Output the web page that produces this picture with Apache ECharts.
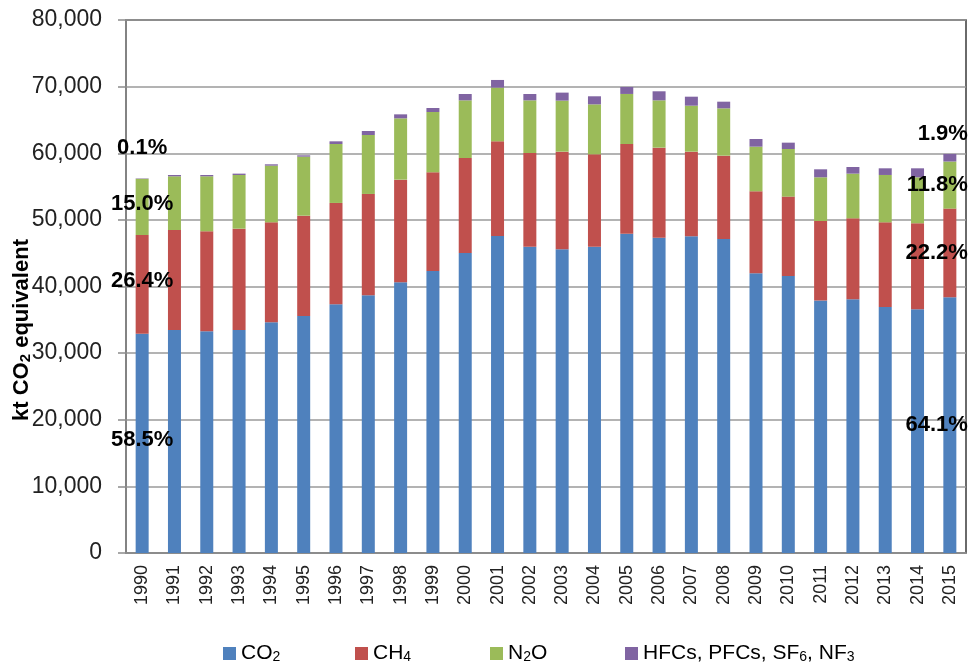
<!DOCTYPE html>
<html>
<head>
<meta charset="utf-8">
<script src="https://cdn.jsdelivr.net/npm/echarts@6/dist/echarts.min.js"></script>
<style>
  html, body { margin: 0; padding: 0; background: #fff; }
  #chart { width: 972px; height: 666px; }
</style>
</head>
<body>
<div id="chart"></div>
<script>
var years = ['1990','1991','1992','1993','1994','1995','1996','1997','1998','1999','2000','2001','2002','2003','2004','2005','2006','2007','2008','2009','2010','2011','2012','2013','2014','2015'];
var co2  = [32900,33470,33280,33470,34620,35570,37330,38680,40630,42330,45030,47580,45980,45580,45980,47930,47330,47530,47130,41980,41580,37880,38080,36920,36580,38390];
var ch4  = [14830,15010,15010,15210,15010,15060,15210,15210,15410,14810,14260,14210,14060,14660,13860,13460,13510,12710,12510,12310,11910,11950,12150,12710,12910,13300];
var n2o  = [8430,8060,8250,8060,8510,8860,8850,8850,9200,9050,8650,8060,7900,7660,7500,7510,7100,6900,7100,6700,7150,6560,6710,7110,6900,7070];
var fgas = [60,200,200,200,200,200,400,600,600,600,950,1150,950,1200,1210,1050,1360,1350,1000,1150,950,1200,1000,1000,1350,1140];
var shares1990 = ['58.5%','26.4%','15.0%','0.1%'];
var shares2015 = ['64.1%','22.2%','11.8%','1.9%'];
var seriesNames = ['CO2','CH4','N2O','HFCs, PFCs, SF6, NF3'];
var legendRich = {
  'CO2': '{n|CO}{s|2}',
  'CH4': '{n|CH}{s|4}',
  'N2O': '{n|N}{s|2}{n|O}',
  'HFCs, PFCs, SF6, NF3': '{n|HFCs, PFCs, SF}{s|6}{n|, NF}{s|3}'
};
var colors = ['#4F81BD','#C0504D','#9BBB59','#8064A2'];
var yTicks = [0,10000,20000,30000,40000,50000,60000,70000,80000];

var FONT = '"Liberation Sans", Arial, sans-serif';
var values = [co2, ch4, n2o, fgas];

function buildData(arr, idx) {
  var isTop = idx === 3;
  return arr.map(function (v, i) {
    if (i === 0 || i === arr.length - 1) {
      var first = i === 0;
      var txt = first ? shares1990[idx] : shares2015[idx];
      return {
        value: v,
        label: {
          show: true,
          formatter: txt,
          position: isTop ? 'top' : 'inside',
          distance: isTop ? (first ? 16 : 9) : 5,
          align: first ? 'center' : 'right',
          offset: first ? [0, -3] : [18, 0],
          color: '#000',
          textBorderWidth: 0,
          textBorderColor: 'transparent',
          fontFamily: FONT,
          fontWeight: 'bold',
          fontSize: 22
        }
      };
    }
    return v;
  });
}

var series = values.map(function (arr, idx) {
  return {
    name: seriesNames[idx],
    type: 'bar',
    stack: 'total',
    barWidth: 13,
    itemStyle: { color: colors[idx] },
    data: buildData(arr, idx)
  };
});

var legendLefts = [218, 350, 485, 620];
var legends = seriesNames.map(function (nm, i) {
  return {
    data: [nm],
    left: legendLefts[i],
    top: 638,
    icon: 'rect',
    itemWidth: 13,
    itemHeight: 13,
    formatter: function (name) { return legendRich[name]; },
    textStyle: {
      color: '#000',
      fontFamily: FONT,
      fontSize: 21,
      rich: {
        n: { fontSize: 21, fontFamily: FONT, color: '#000' },
        s: { fontSize: 14, fontFamily: FONT, color: '#000', verticalAlign: 'bottom', lineHeight: 12 }
      }
    }
  };
});

var chart = echarts.init(document.getElementById('chart'), null, { renderer: 'canvas' });
chart.setOption({
  animation: false,
  color: colors,
  grid: {
    left: 126, right: 6, top: 20, bottom: 113,
    show: true, borderColor: '#3a3a3a', borderWidth: 1.5, backgroundColor: '#fff'
  },
  legend: legends,
  xAxis: {
    type: 'category',
    data: years,
    axisLine: { show: true, lineStyle: { color: '#8c8c8c', width: 1.5 } },
    axisTick: { show: false },
    axisLabel: {
      rotate: 90,
      interval: 0,
      margin: 12,
      color: '#222',
      fontFamily: FONT,
      fontSize: 18
    }
  },
  yAxis: {
    type: 'value',
    min: yTicks[0],
    max: yTicks[yTicks.length - 1],
    interval: 10000,
    axisLine: { show: true, lineStyle: { color: '#8c8c8c', width: 1.5 } },
    axisTick: { show: true, inside: false, length: 8, lineStyle: { color: '#8c8c8c', width: 1.5 } },
    splitLine: { show: true, lineStyle: { color: '#9a9a9a', width: 1.5 } },
    axisLabel: {
      margin: 24,
      color: '#222',
      fontFamily: FONT,
      fontSize: 23,
      formatter: function (v) { return v.toLocaleString('en-US'); }
    }
  },
  graphic: [{
    type: 'text',
    x: 22,
    y: 330,
    rotation: Math.PI / 2,
    style: {
      text: '{b|kt CO}{s|2}{b| equivalent}',
      align: 'center',
      verticalAlign: 'middle',
      fill: '#000',
      rich: {
        b: { fontSize: 22, fontWeight: 'bold', fontFamily: FONT, fill: '#000' },
        s: { fontSize: 15, fontWeight: 'bold', fontFamily: FONT, fill: '#000', verticalAlign: 'bottom', lineHeight: 12 }
      }
    }
  }],
  series: series
});
</script>
</body>
</html>
